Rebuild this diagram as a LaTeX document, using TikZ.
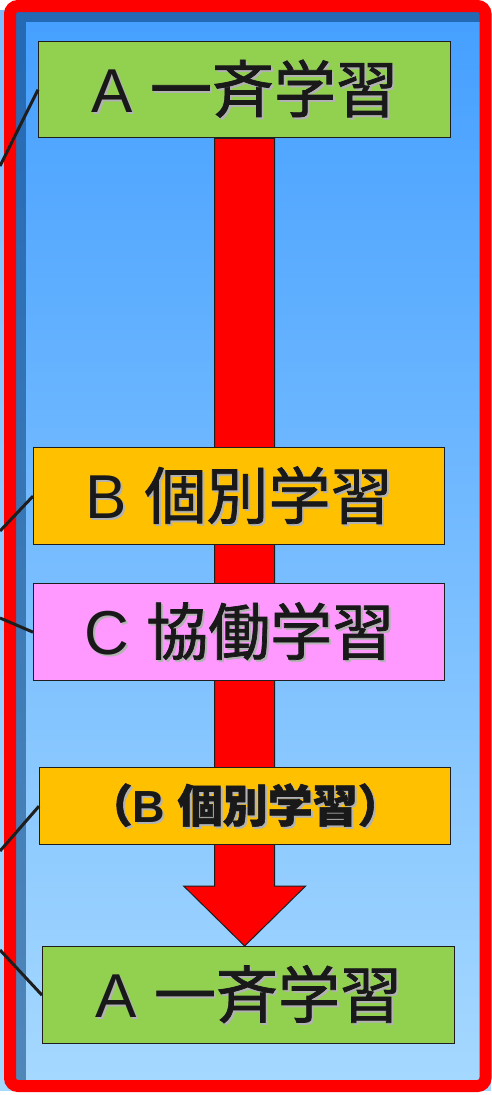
\documentclass[tikz,border=0pt]{standalone}
\usepackage{fontspec}
\setmainfont{Liberation Sans}
\newfontfamily\cjk[FakeBold=1.2]{Noto Sans CJK JP}
\usetikzlibrary{calc}
\definecolor{panelTop}{RGB}{70,160,255}
\definecolor{panelBot}{RGB}{165,216,255}
\definecolor{bevelTop}{RGB}{35,105,180}
\definecolor{bevelBot}{RGB}{80,135,185}
\definecolor{boxGreen}{RGB}{146,208,80}
\definecolor{boxOrange}{RGB}{255,192,0}
\definecolor{boxPink}{RGB}{255,153,255}
\definecolor{edge}{RGB}{30,30,30}
\definecolor{txt}{RGB}{25,25,25}
\newcommand\shd[1]{\makebox[0pt][l]{\hspace{2pt}\raisebox{-2pt}{\textcolor{black!30}{#1}}}#1}
\tikzset{
  stage/.style={draw=edge, line width=1.3pt, anchor=north west, inner sep=0pt,
    text=txt, minimum width=412pt, font=\fontsize{62}{62}\selectfont},
  small/.style={font=\fontsize{45}{45}\selectfont\bfseries},
  link/.style={draw=edge, line width=3pt},
  bigarrow/.style={fill=red, draw=edge, line width=1pt, line join=miter},
}
\begin{document}
\begin{tikzpicture}[x=1pt, y=-1pt]
\useasboundingbox (0,0) rectangle (491,1095);
% background
\fill[white] (0,0) rectangle (491,1095);
\shade[top color=panelTop!70!white, bottom color=panelBot] (0,10) rectangle (491,1090);
% panel with bevel
\shade[top color=bevelTop, bottom color=bevelBot] (16,12) rectangle (480,1080);
\shade[top color=panelTop, bottom color=panelBot] (26,22) rectangle (480,1080);
% red frame
\draw[red, line width=12pt, rounded corners=8pt] (10,6) rectangle (485.5,1086);

% box positions
\coordinate (pa1) at (38,41);
\coordinate (pb1) at (33,447);
\coordinate (pc) at (33,583);
\coordinate (pb2) at (39,767);
\coordinate (pa2) at (42,946);

% invisible placement to get anchors for arrow
\path (pa1) node[stage, draw=none, minimum height=96pt] (a1g) {};
\path (pa2) node[stage, draw=none, minimum height=97pt] (a2g) {};
\coordinate (tip) at (a1g.south |- a2g.north);

% big arrow behind boxes
\draw[bigarrow] ($(a1g.south)+(-30,0)$) -- ($(a1g.south)+(30,0)$)
  -- ($(tip)+(30,-60)$) -- ($(tip)+(61,-60)$) -- (tip)
  -- ($(tip)+(-61,-60)$) -- ($(tip)+(-30,-60)$) -- cycle;

% stages
\node[stage, fill=boxGreen, minimum height=96pt] (a1) at (pa1) {\shd{A {\cjk 一斉学習}}};
\node[stage, fill=boxOrange, minimum height=97pt, minimum width=411pt] (b1) at (pb1) {\shd{B {\cjk 個別学習}}};
\node[stage, fill=boxPink, minimum height=97pt, minimum width=411pt] (c) at (pc) {\shd{C {\cjk 協働学習}}};
\node[stage, small, fill=boxOrange, minimum height=77pt, minimum width=411pt] (b2) at (pb2) {\shd{{\cjk\bfseries （}B {\cjk\bfseries 個別学習）}}};
\node[stage, fill=boxGreen, minimum height=97pt] (a2) at (pa2) {\shd{A {\cjk 一斉学習}}};

% connectors from the left edge
\coordinate (l1) at (0,166);
\coordinate (l2) at (0,531);
\coordinate (l3) at (0,618);
\coordinate (l4) at (0,851);
\coordinate (l5) at (0,950);
\draw[link] (l1) -- (a1.west);
\draw[link] (l2) -- (b1.west);
\draw[link] (l3) -- (c.west);
\draw[link] (l4) -- (b2.west);
\draw[link] (l5) -- (a2.west);
\end{tikzpicture}
\end{document}
